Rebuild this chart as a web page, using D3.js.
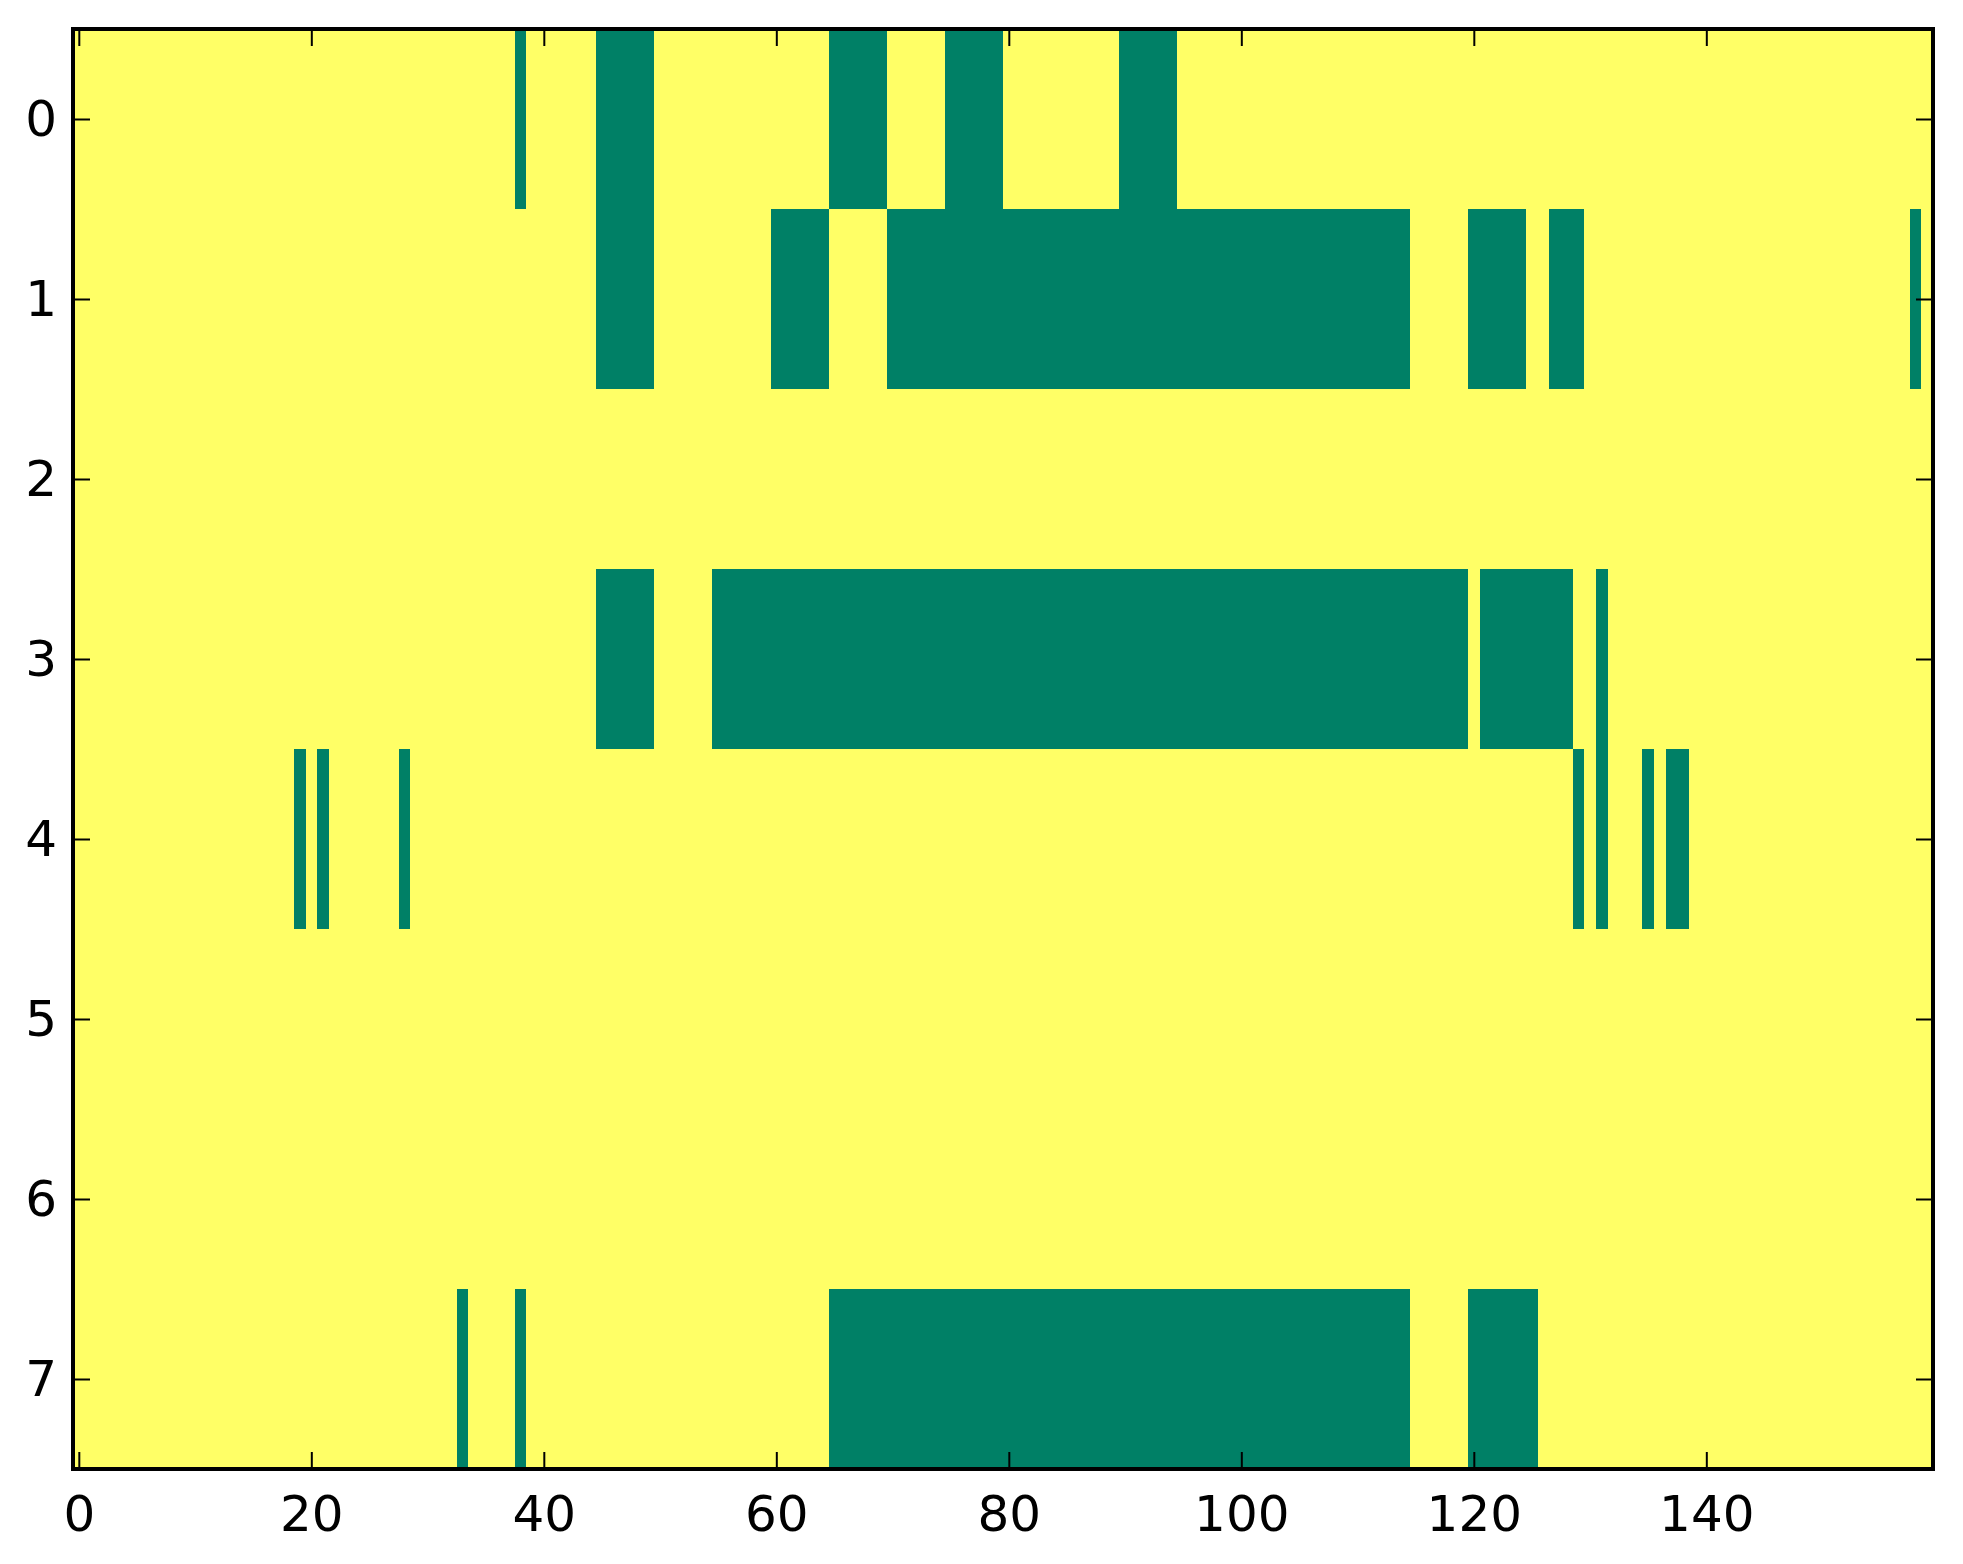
<!DOCTYPE html>
<html>
<head>
<meta charset="utf-8">
<script src="https://cdn.jsdelivr.net/npm/d3@7"></script>
<style>
  body { margin: 0; background: #fff; }
  text { font-family: "DejaVu Sans", sans-serif; }
</style>
</head>
<body>
<div id="chart"></div>
<script>
// image grid: 8 rows x 160 columns, value 0 (green) or 1 (yellow)
const nCols = 160;
const rowLabels = [0, 1, 2, 3, 4, 5, 6, 7];
const xTicks = [0, 20, 40, 60, 80, 100, 120, 140];

// runs of zero cells per row, [first col, last col]
const zeroRuns = [
    [[38, 38], [45, 49], [65, 69], [75, 79], [90, 94]],
    [[45, 49], [60, 64], [70, 114], [120, 124], [127, 129], [158, 158]],
    [],
    [[45, 49], [55, 119], [121, 128], [131, 131]],
    [[19, 19], [21, 21], [28, 28], [129, 129], [131, 131], [135, 135], [137, 138]],
    [],
    [],
    [[33, 33], [38, 38], [65, 114], [120, 125]]
];

class GridChart {
    constructor(mountPoint) {
        this.width = 1963;
        this.height = 1564;
        this.svg = d3.select(`#${mountPoint}`).append('svg')
            .attr('width', this.width)
            .attr('height', this.height);
        this.makeGrid();
    }

    makeGrid() {
        const left = 73, right = 1933, top = 29, bottom = 1469;

        // build matrix, everything 1 then mark zero runs
        const grid = rowLabels.map((r, i) => {
            const row = new Array(nCols).fill(1);
            zeroRuns[i].forEach(([a, b]) => { for (let c = a; c <= b; c++) row[c] = 0; });
            return row;
        });

        // merge neighbour cells of same value so there are no seams
        const cells = [];
        grid.forEach((row, r) => {
            let start = 0;
            for (let c = 1; c <= nCols; c++) {
                if (c === nCols || row[c] !== row[start]) {
                    cells.push({ row: r, c0: start, c1: c - 1, v: row[start] });
                    start = c;
                }
            }
        });

        this.x = d3.scaleLinear().domain([-0.5, nCols - 0.5]).range([left, right]);
        this.y = d3.scaleLinear().domain([-0.5, rowLabels.length - 0.5]).range([top, bottom]);
        const color = d3.scaleLinear().domain([0, 1]).range(['#008066', '#ffff66']);

        this.svg.append('g').selectAll('rect').data(cells)
            .join('rect')
            .attr('x', d => this.x(d.c0 - 0.5))
            .attr('y', d => this.y(d.row - 0.5))
            .attr('width', d => this.x(d.c1 + 0.5) - this.x(d.c0 - 0.5))
            .attr('height', d => this.y(d.row + 0.5) - this.y(d.row - 0.5))
            .attr('fill', d => color(d.v))
            .attr('shape-rendering', 'crispEdges');

        const tickLen = 17;
        const fontSize = 50;

        // bottom + top ticks (inside)
        const xAxisB = d3.axisBottom(this.x).tickValues(xTicks).tickSize(-tickLen).tickPadding(26);
        const gB = this.svg.append('g').attr('transform', `translate(0,${bottom})`).call(xAxisB);
        const xAxisT = d3.axisTop(this.x).tickValues(xTicks).tickSize(-tickLen).tickFormat('');
        const gT = this.svg.append('g').attr('transform', `translate(0,${top})`).call(xAxisT);

        // left + right ticks
        const yAxisL = d3.axisLeft(this.y).tickValues(rowLabels).tickSize(-tickLen).tickPadding(16);
        const gL = this.svg.append('g').attr('transform', `translate(${left},0)`).call(yAxisL);
        const yAxisR = d3.axisRight(this.y).tickValues(rowLabels).tickSize(-tickLen).tickFormat('');
        const gR = this.svg.append('g').attr('transform', `translate(${right},0)`).call(yAxisR);

        [gB, gT, gL, gR].forEach(g => {
            g.select('.domain').remove();
            g.selectAll('.tick line').attr('stroke', '#000').attr('stroke-width', 2);
            g.selectAll('text')
                .attr('fill', '#000')
                .style('font-size', fontSize + 'px')
                .style('font-family', '"DejaVu Sans", sans-serif');
        });

        // frame
        this.svg.append('rect')
            .attr('x', left)
            .attr('y', top)
            .attr('width', right - left)
            .attr('height', bottom - top)
            .attr('fill', 'none')
            .attr('stroke', '#000')
            .attr('stroke-width', 4);
    }
}

new GridChart('chart');
</script>
</body>
</html>
